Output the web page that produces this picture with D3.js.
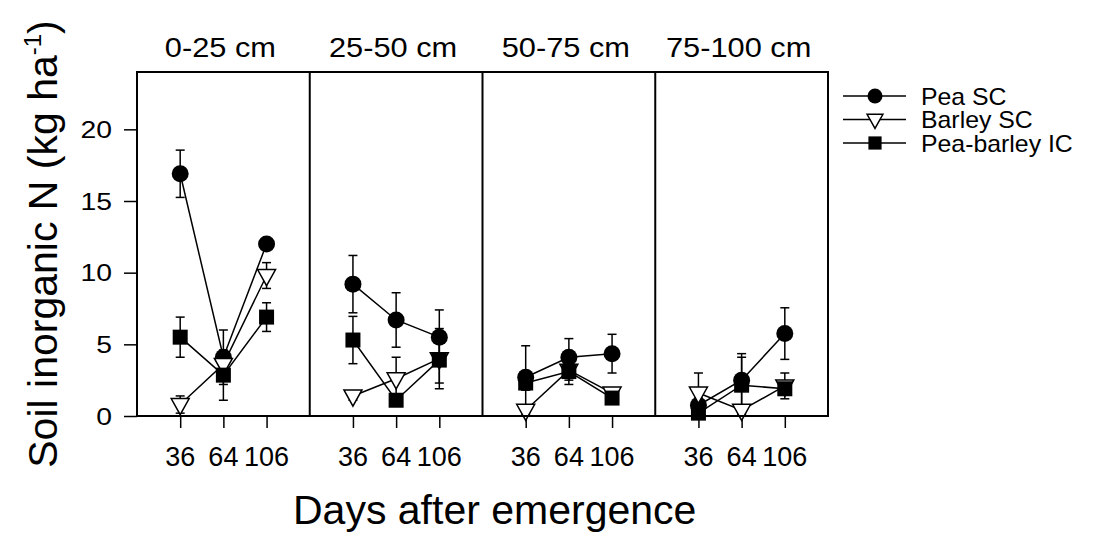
<!DOCTYPE html>
<html>
<head>
<meta charset="utf-8">
<script src="https://cdn.jsdelivr.net/npm/d3@7"></script>
<style>
  body { margin: 0; background: #fff; }
  text { font-family: "Liberation Sans", Arial, sans-serif; fill: #000; }
</style>
</head>
<body>
<svg id="grafico"></svg>
<script>
// profundidades (painéis) e dias após emergência
const depths = ["0-25 cm", "25-50 cm", "50-75 cm", "75-100 cm"];
const days = ["36", "64", "106"];
const seriesNames = ["Pea SC", "Barley SC", "Pea-barley IC"];
const yTicks = [0, 5, 10, 15, 20];

// médias por profundidade (linhas) e dia (colunas)
const peaSC = [[16.9, 4.1, 12.0], [9.2, 6.7, 5.5], [2.7, 4.1, 4.35], [0.75, 2.5, 5.75]];
const barleySC = [[0.8, 3.6, 9.8], [1.4, 2.6, 4.0], [0.4, 3.2, 1.6], [1.6, 0.4, 2.1]];
const peaBarleyIC = [[5.5, 2.85, 6.9], [5.3, 1.1, 3.9], [2.3, 3.1, 1.25], [0.2, 2.15, 1.9]];

// erro padrão
const peaSCse = [[1.65, 1.9, 0.4], [2.0, 1.9, 1.9], [2.2, 1.3, 1.35], [0.5, 1.85, 1.8]];
const barleySCse = [[0.6, 0.5, 0.9], [0.3, 1.5, 2.1], [0.3, 1.0, 0.3], [1.4, 0.3, 0.9]];
const peaBarleyICse = [[1.4, 1.75, 1.0], [1.65, 0.3, 1.6], [0.5, 0.6, 0.3], [0.2, 1.95, 0.3]];

const width = 1094, height = 535;
const mLeft = 137, mRight = 828, mTop = 72, mBottom = 416;
const panelW = (mRight - mLeft) / depths.length;

let svg = d3.select("#grafico")
  .attr("width", width).attr("height", height)
  .attr("viewBox", "0 0 " + width + " " + height);

let y = d3.scaleLinear().domain([0, 24]).range([mBottom, mTop]);
let x = d3.scalePoint().domain(days).range([0, panelW]).padding(1);

// texto com leve esticamento horizontal, como na figura original
function texto(g, px, py, str, size, anchor, sx) {
  return g.append("text")
    .attr("transform", "translate(" + px + "," + py + ") scale(" + (sx || 1) + ",1)")
    .attr("text-anchor", anchor || "middle")
    .style("font-size", size + "px")
    .text(str);
}

const series = [
  { name: seriesNames[0], vals: peaSC, se: peaSCse, shape: "circle" },
  { name: seriesNames[1], vals: barleySC, se: barleySCse, shape: "triangle" },
  { name: seriesNames[2], vals: peaBarleyIC, se: peaBarleyICse, shape: "square" }
];

function marcador(g, shape, cx, cy, s) {
  s = s || 1;
  if (shape == "circle") {
    g.append("circle").attr("cx", cx).attr("cy", cy).attr("r", 8.5 * s)
      .attr("fill", "#000");
  } else if (shape == "triangle") {
    let w = 9 * s, h = 8.5 * s;
    g.append("path")
      .attr("d", "M" + (cx - w) + "," + (cy - h * 0.7) + "L" + (cx + w) + "," + (cy - h * 0.7) +
        "L" + cx + "," + (cy + h * 1.2) + "Z")
      .attr("fill", "#fff").attr("stroke", "#000").attr("stroke-width", 1.5);
  } else {
    let a = 7.5 * s;
    g.append("rect").attr("x", cx - a).attr("y", cy - a).attr("width", 2 * a).attr("height", 2 * a)
      .attr("fill", "#000");
  }
}

// eixo y
let yAxis = d3.axisLeft(y).tickValues(yTicks).tickSize(13).tickFormat("");
let gy = svg.append("g").attr("transform", "translate(" + mLeft + ",0)").call(yAxis);
gy.select(".domain").remove();
gy.selectAll(".tick line").attr("stroke", "#000").attr("stroke-width", 1.5);
yTicks.forEach(function (t) {
  texto(svg, 112, y(t) + 8.5, String(t), 24, "end", 1.18);
});

depths.forEach(function (depth, i) {
  let x0 = mLeft + i * panelW;
  let g = svg.append("g").attr("transform", "translate(" + x0 + ",0)");

  // eixo x
  let xAxis = d3.axisBottom(x).tickSize(12).tickFormat("");
  let gx = g.append("g").attr("transform", "translate(0," + mBottom + ")").call(xAxis);
  gx.select(".domain").remove();
  gx.selectAll(".tick line").attr("stroke", "#000").attr("stroke-width", 1.5);
  days.forEach(function (d) {
    texto(g, x(d), 466, d, 27, "middle", 1);
  });

  texto(g, panelW / 2 - 3, 57, depth, 27, "middle", 1.14);

  // barras de erro
  series.forEach(function (s) {
    days.forEach(function (d, j) {
      let v = s.vals[i][j], e = s.se[i][j];
      let cx = x(d);
      let y1 = y(v + e), y2 = y(Math.max(0, v - e));
      g.append("line").attr("x1", cx).attr("x2", cx).attr("y1", y1).attr("y2", y2)
        .attr("stroke", "#000").attr("stroke-width", 1.5);
      [y1, y2].forEach(function (yy) {
        g.append("line").attr("x1", cx - 4.5).attr("x2", cx + 4.5).attr("y1", yy).attr("y2", yy)
          .attr("stroke", "#000").attr("stroke-width", 1.5);
      });
    });
  });

  // linhas
  let linha = d3.line().x(function (d, j) { return x(days[j]); }).y(function (d) { return y(d); });
  series.forEach(function (s) {
    g.append("path").attr("d", linha(s.vals[i]))
      .attr("fill", "none").attr("stroke", "#000").attr("stroke-width", 1.5);
  });

  // marcadores
  series.forEach(function (s) {
    days.forEach(function (d, j) {
      marcador(g, s.shape, x(d), y(s.vals[i][j]));
    });
  });
});

// moldura dos painéis
let moldura = svg.append("g").attr("stroke", "#000").attr("stroke-width", 2).attr("fill", "none");
moldura.append("rect").attr("x", mLeft).attr("y", mTop).attr("width", mRight - mLeft).attr("height", mBottom - mTop);
for (let i = 1; i < depths.length; i++) {
  moldura.append("line").attr("x1", mLeft + i * panelW).attr("x2", mLeft + i * panelW)
    .attr("y1", mTop).attr("y2", mBottom);
}

// legenda
series.forEach(function (s, k) {
  let ly = 96 + k * 23.5;
  svg.append("line").attr("x1", 843).attr("x2", 906).attr("y1", ly).attr("y2", ly)
    .attr("stroke", "#000").attr("stroke-width", 1.5);
  marcador(svg, s.shape, 875, ly, 0.88);
  texto(svg, 921, ly + 8.5, s.name, 23, "start", 1.08);
});

// títulos dos eixos
svg.append("text").attr("x", 293).attr("y", 524).style("font-size", "41px").text("Days after emergence");

let yt = svg.append("text")
  .attr("transform", "translate(57,244) rotate(-90)")
  .attr("text-anchor", "middle")
  .style("font-size", "41px");
yt.append("tspan").text("Soil inorganic N (kg ha");
yt.append("tspan").attr("dy", -16).style("font-size", "24px").text("-1");
yt.append("tspan").attr("dy", 16).text(")");
</script>
</body>
</html>
